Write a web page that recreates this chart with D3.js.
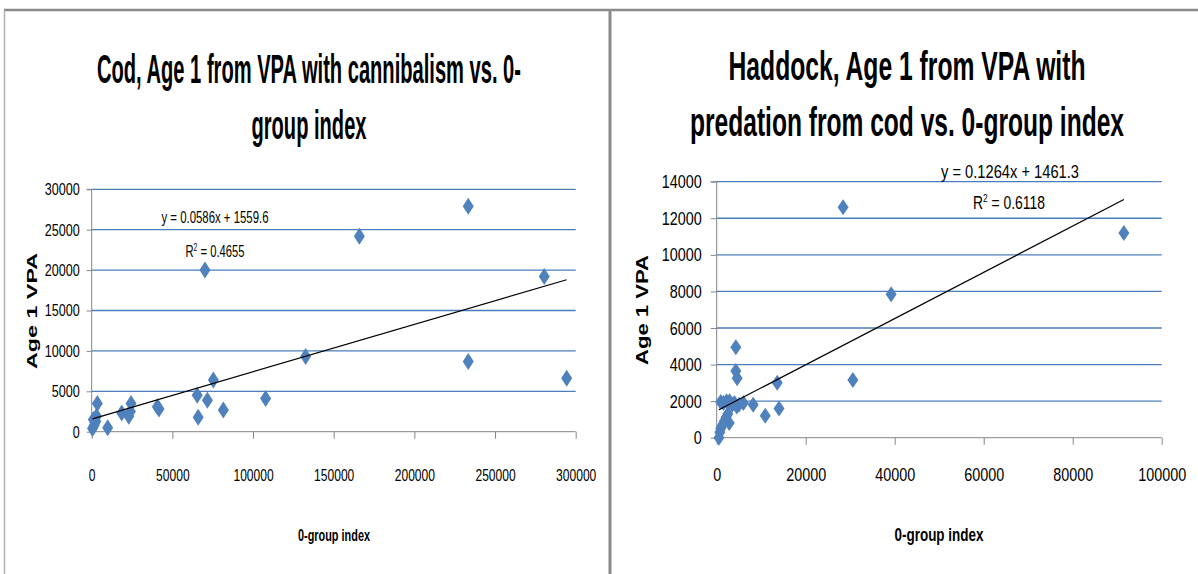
<!DOCTYPE html>
<html><head><meta charset="utf-8">
<script src="https://cdn.jsdelivr.net/npm/d3@7"></script>
<style>
html,body{margin:0;padding:0;background:#fff;}
svg{display:block;}
text{font-family:"Liberation Sans",Arial,sans-serif;fill:#000;}
</style></head>
<body>
<svg id="c" width="1198" height="574"></svg>
<script>
// ---------- data ----------
const codTitle = ["Cod, Age 1 from VPA with cannibalism vs. 0-", "group index"];
const codX = [500, 1500, 2500, 3500, 3000, 9900, 18600, 23000, 24000, 24400, 40700, 41700, 65400, 66000, 71700, 75400, 81600, 107800, 132600, 165900, 233400, 233400, 280500, 294400, 70200, 1000, 2000];
const codY = [400, 800, 1300, 3500, 1900, 500, 2300, 1900, 2500, 3500, 3100, 2800, 4500, 1800, 3900, 6400, 2700, 4100, 9300, 24200, 27900, 8700, 19200, 6600, 20000, 1500, 1100];
const codYTicks = [0, 5000, 10000, 15000, 20000, 25000, 30000];
const codXTicks = [0, 50000, 100000, 150000, 200000, 250000, 300000];
const codFit = [0.0586, 1559.6];
const codEq = ["y = 0.0586x + 1559.6", "0.4655"];

const hadTitle = ["Haddock, Age 1 from VPA with", "predation from cod vs. 0-group index"];
const hadX = [500, 700, 900, 1300, 1700, 2100, 2500, 2800, 900, 1500, 2200, 2900, 3500, 4000, 4500, 5000, 6000, 4300, 4300, 4600, 8200, 10900, 13600, 14000, 28400, 30600, 39200, 91500];
const hadY = [0, 300, 500, 700, 900, 1100, 1300, 800, 1950, 1900, 2000, 2000, 1800, 1900, 1700, 1800, 1900, 4950, 3650, 3250, 1800, 1200, 3000, 1600, 12600, 3150, 7850, 11200];
const hadYTicks = [0, 2000, 4000, 6000, 8000, 10000, 12000, 14000];
const hadXTicks = [0, 20000, 40000, 60000, 80000, 100000];
const hadFit = [0.1264, 1461.3];
const hadEq = ["y = 0.1264x + 1461.3", "0.6118"];

const yTitle = "Age 1 VPA";
const xTitle = "0-group index";

// ---------- drawing ----------
const svg = d3.select("#c");
const BLUE = "#4F81BD", GRID = "#4A7EBB", AXIS = "#868686";

// frame
svg.append("line").attr("x1",4).attr("x2",1198).attr("y1",10).attr("y2",10).attr("stroke","#8a8a8a").attr("stroke-width",2.5);
svg.append("line").attr("x1",4.5).attr("x2",4.5).attr("y1",10).attr("y2",574).attr("stroke","#b0b0b0").attr("stroke-width",1.5);
svg.append("line").attr("x1",610).attr("x2",610).attr("y1",10).attr("y2",574).attr("stroke","#8a8a8a").attr("stroke-width",3);

function fitText(g, str, x, y, len, fs, opts={}) {
  const t = g.append("text").attr("x",x).attr("y",y).attr("font-size",fs)
    .attr("text-anchor", opts.anchor||"middle")
    .attr("font-weight", opts.bold?"bold":"normal")
    .attr("textLength",len).attr("lengthAdjust","spacingAndGlyphs")
    .text(str);
  if (opts.transform) t.attr("transform",opts.transform);
  return t;
}

function chart(cfg) {
  const g = svg.append("g");
  const x = d3.scaleLinear().domain(cfg.xDom).range(cfg.xR);
  const y = d3.scaleLinear().domain(cfg.yDom).range(cfg.yR);

  // gridlines
  g.append("g").selectAll("line").data(cfg.yTicks.filter(d=>d>0)).join("line")
    .attr("x1",cfg.xR[0]).attr("x2",cfg.xR[1]).attr("y1",d=>y(d)).attr("y2",d=>y(d))
    .attr("stroke",GRID).attr("stroke-width",1.3);

  // y axis
  const ya = g.append("g").attr("transform",`translate(${cfg.xR[0]},0)`)
    .call(d3.axisLeft(y).tickValues(cfg.yTicks).tickSize(cfg.yTickSize).tickPadding(cfg.yPad).tickFormat(d=>String(d)));
  ya.select(".domain").attr("stroke",AXIS).attr("d",`M-${cfg.yTickSize},${cfg.yR[1]}H0V${cfg.yR[0]}`);
  ya.selectAll(".tick line").attr("stroke",AXIS);
  ya.selectAll(".tick text").attr("font-size",cfg.tickFs).attr("font-family","Liberation Sans, Arial, sans-serif").attr("fill","#000")
    .attr("textLength",d=>String(d).length*cfg.yDigitW).attr("lengthAdjust","spacingAndGlyphs");

  // x axis
  const xa = g.append("g").attr("transform",`translate(0,${cfg.yR[0]})`)
    .call(d3.axisBottom(x).tickValues(cfg.xTicks).tickSize(cfg.xTickSize).tickPadding(cfg.xPad).tickFormat(d=>String(d)));
  xa.select(".domain").attr("stroke",AXIS).attr("d",`M${cfg.xR[0]},0H${cfg.xR[1]}`);
  xa.selectAll(".tick line").attr("stroke",AXIS);
  xa.selectAll(".tick text").attr("font-size",cfg.tickFs).attr("font-family","Liberation Sans, Arial, sans-serif").attr("fill","#000")
    .attr("textLength",d=>String(d).length*cfg.xDigitW).attr("lengthAdjust","spacingAndGlyphs");

  // points
  const w = cfg.mw, h = cfg.mh;
  g.append("g").selectAll("path").data(cfg.xs.map((v,i)=>[v,cfg.ys[i]])).join("path")
    .attr("transform",d=>`translate(${x(d[0])},${y(d[1])})`)
    .attr("d",`M0,${-h}L${w},0L0,${h}L${-w},0Z`)
    .attr("fill",BLUE);

  // trendline
  const ext = d3.extent(cfg.xs);
  const f = v => cfg.fit[0]*v + cfg.fit[1];
  g.append("line").attr("x1",x(ext[0])).attr("y1",y(f(ext[0]))).attr("x2",x(ext[1])).attr("y2",y(f(ext[1])))
    .attr("stroke","#000").attr("stroke-width",1.2);

  // equation
  fitText(g, cfg.eq[0], cfg.eqPos[0], cfg.eqPos[1], cfg.eqLen[0], cfg.eqFs);
  const r = g.append("text").attr("x",cfg.r2Pos[0]).attr("y",cfg.r2Pos[1]).attr("font-size",cfg.eqFs)
    .attr("text-anchor","middle").attr("textLength",cfg.eqLen[1]).attr("lengthAdjust","spacingAndGlyphs");
  r.append("tspan").text("R");
  r.append("tspan").attr("font-size",cfg.eqFs*0.6).attr("dy",-cfg.eqFs*0.35).text("2");
  r.append("tspan").attr("dy",cfg.eqFs*0.35).text(" = " + cfg.eq[1]);

  // titles
  cfg.title.forEach((t,i)=>fitText(g, t, cfg.titleX, cfg.titleY[i], cfg.titleLen[i], cfg.titleFs, {bold:true}));
  fitText(g, xTitle, cfg.xtPos[0], cfg.xtPos[1], cfg.xtLen, cfg.xtFs, {bold:true});
  fitText(g, yTitle, 0, 0, cfg.ytLen, cfg.ytFs, {bold:true, transform:`translate(${cfg.ytPos[0]},${cfg.ytPos[1]}) rotate(-90)`});
}

chart({
  xs: codX, ys: codY, fit: codFit, eq: codEq, title: codTitle,
  xDom:[0,300000], xR:[91.7,575.7], yDom:[0,30000], yR:[431.7,189.3],
  yTicks: codYTicks, xTicks: codXTicks,
  yTickSize:5, yPad:7, xTickSize:7, xPad:30, tickFs:17, yDigitW:7, xDigitW:6.7,
  mw:5.5, mh:8.5,
  eqPos:[215,223], r2Pos:[215,257], eqLen:[107,59], eqFs:17,
  titleX:309, titleY:[83,139], titleLen:[424,115], titleFs:40,
  xtPos:[334,541], xtLen:72, xtFs:17,
  ytPos:[37,311], ytLen:116, ytFs:14
});

chart({
  xs: hadX, ys: hadY, fit: hadFit, eq: hadEq, title: hadTitle,
  xDom:[0,100000], xR:[716.7,1161.7], yDom:[0,14000], yR:[437.7,181.7],
  yTicks: hadYTicks, xTicks: hadXTicks,
  yTickSize:6, yPad:9, xTickSize:7, xPad:23, tickFs:19, yDigitW:8, xDigitW:8,
  mw:5.5, mh:8,
  eqPos:[1010,178], r2Pos:[1009,209], eqLen:[138,72], eqFs:19,
  titleX:907, titleY:[80,136], titleLen:[357,434], titleFs:40,
  xtPos:[939,541], xtLen:89, xtFs:19,
  ytPos:[648,310], ytLen:110, ytFs:16
});
</script>
</body></html>
